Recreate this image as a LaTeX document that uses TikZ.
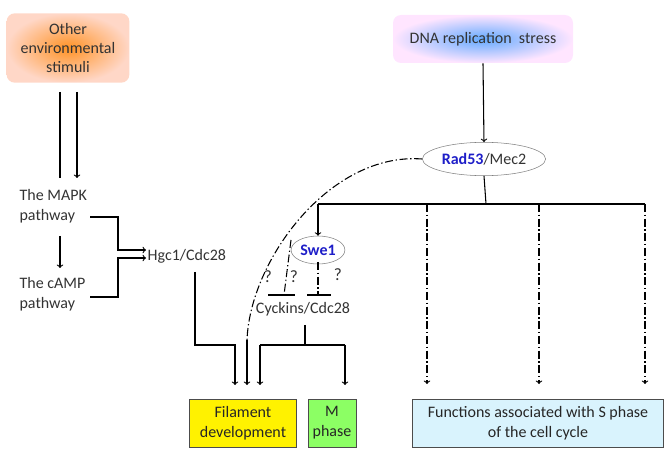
\documentclass[tikz,border=0pt]{standalone}
\usepackage{fontspec}
\setmainfont{Carlito}
\usetikzlibrary{positioning,calc,shapes.geometric}
\definecolor{swblue}{RGB}{30,30,200}
\definecolor{mgreen}{RGB}{140,255,100}
\definecolor{sblue}{RGB}{100,170,255}
\tikzstyle{txt}=[text=black!80, font=\fontsize{12}{15}\selectfont, inner sep=1pt, align=left]
\tikzstyle{obox}=[rectangle, rounded corners=6pt, inner color=orange!85, outer color=orange!25!pink!50,
                  minimum width=92pt, minimum height=52pt, align=center, text=black!80,
                  font=\fontsize{12}{14}\selectfont]
\tikzstyle{bbox}=[rectangle, rounded corners=6pt, inner color=sblue, outer color=magenta!10,
                  minimum width=135pt, minimum height=36pt, text=black!80, font=\fontsize{12}{15}\selectfont]
\tikzstyle{ebox}=[ellipse, draw=gray, minimum width=88pt, minimum height=25pt, inner sep=1pt,
                  text=black!80, font=\fontsize{12}{15}\selectfont]
\tikzstyle{rbox}=[rectangle, draw=black!70, minimum height=36pt, align=center,
                  text=black!85, font=\fontsize{12}{15}\selectfont]
\tikzstyle{pline}=[-, thick]
\tikzstyle{parr}=[->, thick]
\tikzstyle{dd}=[thick, dash pattern=on 6pt off 2pt on 1pt off 2pt]
\begin{document}
\begin{tikzpicture}[x=0.75pt, y=-0.75pt, >=to]
\useasboundingbox (0,0) rectangle (669,467);

\node (OES) [obox] at (68,48) {Other\\environmental\\stimuli};
\node (DNA) [bbox] at (483,39) {DNA replication\ \ stress};
\node (RAD) [ebox] at (484,159) {\textbf{\textcolor{swblue}{Rad53}}/Mec2};
\node (SWE) [ebox, minimum width=40pt, minimum height=21pt] at (318,250) {\textbf{\textcolor{swblue}{Swe1}}};
\node (MAPK) [txt, anchor=west] at (18,206) {The MAPK\\pathway};
\node (CAMP) [txt, anchor=west] at (18,294) {The cAMP\\pathway};
\node (HGC) [txt, anchor=west] at (146,256) {Hgc1/Cdc28};
\node (CYC) [txt] at (303,309) {Cyckins/Cdc28};
\node (FIL) [rbox, fill=yellow, minimum width=80pt] at (243,423) {Filament\\development};
\node (MPH) [rbox, fill=mgreen, minimum width=24pt] at (332,423) {M\\phase};
\node (SPH) [rbox, fill=cyan!15, minimum width=188pt] at (538,423) {Functions associated with S phase\\of the cell cycle};

% left branch
\draw[pline] (60,92) -- (60,178);
\draw[parr] (77,92) -- (77,178);
\draw[parr] (60,236) -- (60,268);
\draw[parr] (90,217) -| (118,250) -- (HGC.west |- 0,250);
\draw[parr] (90,297) -| (118,258) -- (HGC.west |- 0,258);
\draw[parr] (195,272) |- (235,345) -- (235,385);

% right branch
\draw[parr] (DNA.south) -- (RAD.north);
\draw[pline] (RAD.south) -- (486,204);
\draw[pline] (318,204) -- (645,204);
\draw[parr] (318,204) -- (SWE.north);
\foreach \x in {427,539,645}
  \draw[dd, ->] (\x,204) -- (\x,384);
\draw[pline] (305,325) -- (305,345);
\draw[pline] (260,345) -- (345,345);
\draw[parr] (260,345) -- (260,385);
\draw[parr] (345,345) -- (345,385);

% inhibition lines
\draw[dd] (RAD.west) .. controls (330,152) and (250,260) .. (247,340);
\draw[parr] (247,340) -- (247,385);
\draw[dd] (291,240) -- (284,295);
\draw[pline] (268,295) -- (295,295);
\draw[dd] (318,262) -- (318,295);
\draw[pline] (307,295) -- (331,295);
\node[txt, font=\fontsize{13}{13}\selectfont] (Q1) at (268,277) {?};
\node[txt, font=\fontsize{13}{13}\selectfont] (Q2) at (294,277) {?};
\node[txt, font=\fontsize{13}{13}\selectfont] (Q3) at (338,275) {?};
\end{tikzpicture}
\end{document}
